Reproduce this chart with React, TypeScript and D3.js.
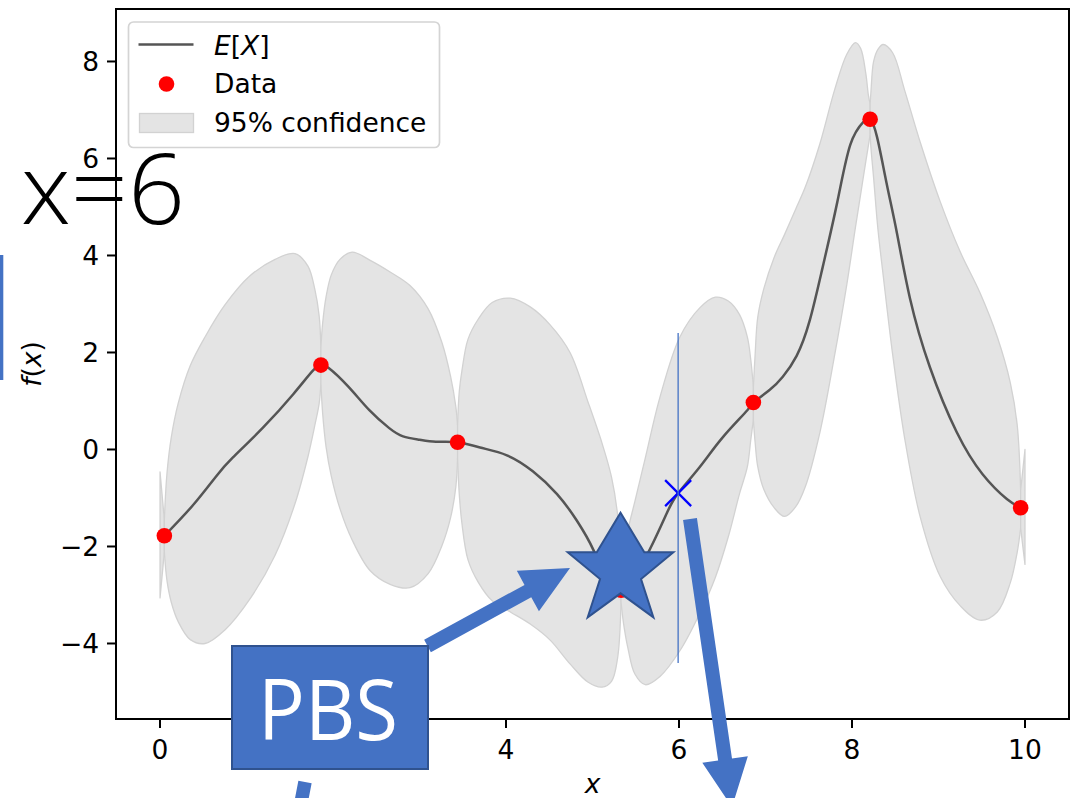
import React from "react";
import * as d3 from "d3";

const W = 1084;
const H = 798;

// observed data points
const dataX = [0.05, 1.86, 3.44, 5.33, 6.86, 8.21, 9.95];
const dataY = [-1.78, 1.74, 0.15, -2.9, 0.97, 6.81, -1.2];

// posterior mean E[X]
const meanX = [0.05, 0.38, 0.65, 0.84, 1.19, 1.54, 1.77, 1.86, 1.95, 2.18, 2.42, 2.65, 2.81, 3.0, 3.19, 3.44, 3.7, 4.01, 4.31, 4.59, 4.82, 5.01, 5.14, 5.33, 5.49, 5.66, 5.86, 5.99, 6.24, 6.51, 6.79, 6.86, 7.05, 7.2, 7.36, 7.51, 7.66, 7.83, 7.98, 8.13, 8.21, 8.29, 8.4, 8.52, 8.67, 8.9, 9.21, 9.51, 9.79, 9.95];
const meanY = [-1.78, -1.15, -0.55, -0.17, 0.45, 1.14, 1.63, 1.74, 1.68, 1.29, 0.81, 0.44, 0.27, 0.2, 0.16, 0.15, 0.04, -0.12, -0.45, -0.92, -1.47, -2.07, -2.59, -2.9, -2.59, -2.07, -1.31, -0.9, -0.36, 0.26, 0.81, 0.97, 1.23, 1.5, 1.93, 2.65, 3.75, 5.1, 6.28, 6.75, 6.81, 6.44, 5.49, 4.46, 3.12, 1.7, 0.36, -0.51, -1.02, -1.2];

// 95% confidence band
const bandX = [0.0,
  0.05, 0.08, 0.13, 0.21, 0.35, 0.52, 0.75, 1.04, 1.33, 1.56, 1.71, 1.79, 1.84,
  1.86, 1.88, 1.92, 1.98, 2.08, 2.22, 2.43, 2.66, 2.89, 3.1, 3.26, 3.36, 3.42,
  3.44, 3.46, 3.49, 3.56, 3.68, 3.84, 4.05, 4.28, 4.51, 4.74, 4.95, 5.11, 5.22, 5.29,
  5.33, 5.36, 5.41, 5.49, 5.61, 5.78, 6.01, 6.24, 6.42, 6.57, 6.7, 6.79, 6.83,
  6.86, 6.88, 6.91, 6.98, 7.1, 7.22, 7.35, 7.46, 7.63, 7.8, 7.94, 8.04, 8.1, 8.16, 8.19,
  8.21, 8.22, 8.25, 8.3, 8.36, 8.47, 8.61, 8.79, 9.02, 9.25, 9.48, 9.68, 9.83, 9.91,
  9.95, 10.0];
const bandLo = [-3.06,
  -2.11, -2.7, -3.15, -3.55, -3.92, -4.0, -3.72, -3.08, -2.18, -1.12, -0.15, 0.5, 0.95,
  1.37, 0.75, 0.05, -0.55, -1.22, -1.86, -2.5, -2.78, -2.85, -2.56, -1.98, -1.4, -0.77,
  -0.18, -0.93, -1.52, -2.27, -2.74, -3.12, -3.35, -3.6, -3.93, -4.42, -4.8, -4.9, -4.78, -4.3,
  -3.15, -3.6, -4.1, -4.63, -4.85, -4.68, -4.15, -3.38, -2.64, -1.8, -0.91, -0.36, 0.2,
  0.61, 0.15, -0.35, -0.82, -1.2, -1.38, -1.18, -0.77, 0.36, 1.95, 3.4, 4.58, 5.26, 5.94, 6.27,
  6.49, 6.2, 5.6, 4.54, 3.6, 1.96, 0.22, -1.4, -2.62, -3.22, -3.52, -3.35, -2.75, -2.12,
  -1.62, -2.37];
const bandHi = [-0.46,
  -1.45, -0.5, 0.25, 0.95, 1.73, 2.32, 2.98, 3.58, 3.92, 4.04, 3.78, 3.3, 2.75,
  2.11, 2.6, 3.15, 3.6, 3.92, 4.07, 3.9, 3.66, 3.38, 2.9, 2.2, 1.5, 0.88,
  0.5, 1.2, 1.62, 2.27, 2.69, 3.03, 3.12, 2.94, 2.57, 2.0, 0.97, 0.13, -0.57, -1.35,
  -2.6, -2.1, -1.65, -1.07, -0.18, 1.08, 2.32, 2.92, 3.14, 3.06, 2.78, 2.32, 1.85,
  1.29, 1.95, 2.72, 3.31, 3.96, 4.43, 4.96, 5.41, 6.31, 7.42, 8.15, 8.39, 8.27, 7.75, 7.3,
  7.12, 7.4, 8.0, 8.25, 8.35, 8.18, 7.4, 6.33, 5.11, 4.08, 3.23, 2.32, 1.38, 0.51,
  -0.84, 0.0];

// next query point
const queryX = [5.99];
const queryY = [-0.9];

const xTicks = [0, 2, 4, 6, 8, 10];
const yTicks = [-4, -2, 0, 2, 4, 6, 8];
const legendLabels = ["Data", "95% confidence"];

const BLUE = "#4472C4";
const BLUE_DARK = "#2F528F";
const BAND_FILL = "#e4e4e4";
const BAND_EDGE = "#d2d2d2";
const MEAN_COLOR = "#555555";
const FONT = "'DejaVu Sans', sans-serif";
const FS = 26.5;

// star template (unit box), PowerPoint-like five-point star
const STAR_TEMPLATE: [number, number][] = [
  [0.5, 0], [0.725, 0.379], [1, 0.379], [0.694, 0.634], [0.811, 1],
  [0.5, 0.771], [0.189, 1], [0.306, 0.634], [0, 0.379], [0.275, 0.379],
];

function arrowPoints(x0: number, y0: number, x1: number, y1: number, sw: number, hl: number, hw: number) {
  const dx = x1 - x0, dy = y1 - y0;
  const L = Math.hypot(dx, dy);
  const ux = dx / L, uy = dy / L;
  const px = -uy, py = ux;
  const bx = x1 - ux * hl, by = y1 - uy * hl;
  const pts = [
    [x0 + px * sw / 2, y0 + py * sw / 2],
    [bx + px * sw / 2, by + py * sw / 2],
    [bx + px * hw / 2, by + py * hw / 2],
    [x1, y1],
    [bx - px * hw / 2, by - py * hw / 2],
    [bx - px * sw / 2, by - py * sw / 2],
    [x0 - px * sw / 2, y0 - py * sw / 2],
  ];
  return pts.map((p) => p.join(",")).join(" ");
}

export default function App() {
  const left = 116, right = 1069, top = 9, bottom = 719;
  const x = d3.scaleLinear().domain([-0.509, 10.509]).range([left, right]);
  const y = d3.scaleLinear().domain([-5.557, 9.082]).range([bottom, top]);

  // split band into lobes at the observed points
  const breaks: number[] = [];
  bandX.forEach((v, i) => {
    if (i === 0 || i === bandX.length - 1 || dataX.some((d) => Math.abs(d - v) < 1e-9)) breaks.push(i);
  });
  const segments: { x: number; lo: number; hi: number }[][] = [];
  for (let k = 0; k < breaks.length - 1; k++) {
    const seg = [];
    for (let i = breaks[k]; i <= breaks[k + 1]; i++) seg.push({ x: bandX[i], lo: bandLo[i], hi: bandHi[i] });
    segments.push(seg);
  }
  const area = d3
    .area<{ x: number; lo: number; hi: number }>()
    .x((d) => x(d.x))
    .y0((d) => y(d.lo))
    .y1((d) => y(d.hi))
    .curve(d3.curveCatmullRom.alpha(0.5));

  const meanPts = meanX.map((v, i) => [v, meanY[i]] as [number, number]);
  const line = d3
    .line<[number, number]>()
    .x((d) => x(d[0]))
    .y((d) => y(d[1]))
    .curve(d3.curveNatural);

  const fmt = (v: number) => (v < 0 ? "\u2212" + Math.abs(v) : String(v));

  // star geometry
  const starW = 105.6, starH = 104.6;
  const starCx = x(dataX[3]) - 0.5;
  const starTop = 512.7;
  const starPts = STAR_TEMPLATE.map(([u, v]) => [starCx - starW / 2 + u * starW, starTop + v * starH].join(",")).join(" ");

  const qx = x(queryX[0]);
  const qy = y(queryY[0]);
  const xs = 13;

  return (
    <svg
      width={W}
      height={H}
      viewBox={`0 0 ${W} ${H}`}
      style={{ position: "absolute", left: 0, top: 0, display: "block", background: "#fff" }}
    >
      <rect x={0} y={0} width={W} height={H} fill="#fff" />
      {/* band */}
      <g>
        {segments.map((seg, i) => (
          <path key={i} d={area(seg) || ""} fill={BAND_FILL} stroke={BAND_EDGE} strokeWidth={1.3} strokeLinejoin="round" />
        ))}
      </g>
      {/* mean */}
      <path d={line(meanPts) || ""} fill="none" stroke={MEAN_COLOR} strokeWidth={2.5} />
      {/* data */}
      {dataX.map((v, i) => (
        <circle key={i} cx={x(v)} cy={y(dataY[i])} r={7.8} fill="#ff0000" />
      ))}
      {/* query marker */}
      <g stroke="#0000ff" strokeWidth={2.2}>
        <line x1={qx - xs} y1={qy - xs} x2={qx + xs} y2={qy + xs} />
        <line x1={qx - xs} y1={qy + xs} x2={qx + xs} y2={qy - xs} />
      </g>

      {/* axes */}
      <rect x={left} y={top} width={right - left} height={bottom - top} fill="none" stroke="#000" strokeWidth={2} />
      {xTicks.map((t) => (
        <g key={"x" + t}>
          <line x1={x(t)} x2={x(t)} y1={bottom} y2={bottom + 9} stroke="#000" strokeWidth={2} />
          <text x={x(t)} y={759} textAnchor="middle" fontFamily={FONT} fontSize={FS} fill="#000">
            {fmt(t)}
          </text>
        </g>
      ))}
      {yTicks.map((t) => (
        <g key={"y" + t}>
          <line x1={left - 9} x2={left} y1={y(t)} y2={y(t)} stroke="#000" strokeWidth={2} />
          <text x={99} y={y(t) + 9.5} textAnchor="end" fontFamily={FONT} fontSize={FS} fill="#000">
            {fmt(t)}
          </text>
        </g>
      ))}
      <text x={x(5)} y={793} textAnchor="middle" fontFamily={FONT} fontSize={FS} fontStyle="italic">
        x
      </text>
      <text transform="translate(41,364) rotate(-90)" textAnchor="middle" fontFamily={FONT} fontSize={FS}>
        <tspan fontStyle="italic">f</tspan>
        <tspan>(</tspan>
        <tspan fontStyle="italic">x</tspan>
        <tspan>)</tspan>
      </text>

      {/* legend */}
      <g>
        <rect x={128.5} y={22} width={311} height={125.5} rx={5} fill="#fff" fillOpacity={0.8} stroke="#d4d4d4" strokeWidth={1.7} />
        <line x1={138.5} x2={193.5} y1={44.5} y2={44.5} stroke={MEAN_COLOR} strokeWidth={2.5} />
        <text x={214} y={55} fontFamily={FONT} fontSize={FS}>
          <tspan fontStyle="italic">E</tspan>
          <tspan>[</tspan>
          <tspan fontStyle="italic">X</tspan>
          <tspan>]</tspan>
        </text>
        <circle cx={166.5} cy={84} r={7.8} fill="#ff0000" />
        <text x={214} y={93} fontFamily={FONT} fontSize={FS}>
          {legendLabels[0]}
        </text>
        <rect x={139.5} y={113.5} width={54} height={19} fill={BAND_FILL} stroke={BAND_EDGE} strokeWidth={1.3} />
        <text x={214} y={132} fontFamily={FONT} fontSize={FS}>
          {legendLabels[1]}
        </text>
      </g>

      {/* annotations */}
      <line x1={x(queryX[0])} x2={x(queryX[0])} y1={y(2.4)} y2={y(-4.4)} stroke={BLUE} strokeWidth={1.3} />
      <polygon points={arrowPoints(427.5, 646, 570, 568, 14, 48, 46)} fill={BLUE} />
      <polygon points={arrowPoints(690, 519, 732, 807, 14, 48, 46)} fill={BLUE} />
      <polygon points={arrowPoints(305, 782, 290, 860, 13.5, 48, 46)} fill={BLUE} />
      <polygon points={starPts} fill={BLUE} stroke={BLUE_DARK} strokeWidth={2} strokeLinejoin="miter" />
      <rect x={232} y={646} width={196} height={123} fill={BLUE} stroke={BLUE_DARK} strokeWidth={2} />
      <text
        x={328}
        y={739.5}
        textAnchor="middle"
        fontFamily="'Open Sans', sans-serif"
        fontSize={84}
        fill="#fff"
        textLength={140}
        lengthAdjust="spacingAndGlyphs"
      >
        PBS
      </text>
      <text
        x={21}
        y={223.5}
        fontFamily="'Open Sans', sans-serif"
        fontWeight={300}
        fontSize={98}
        fill="#000"
        textLength={164}
        lengthAdjust="spacingAndGlyphs"
      >
        x=6
      </text>
      <rect x={0} y={255} width={3.3} height={125} fill={BLUE} />
    </svg>
  );
}
